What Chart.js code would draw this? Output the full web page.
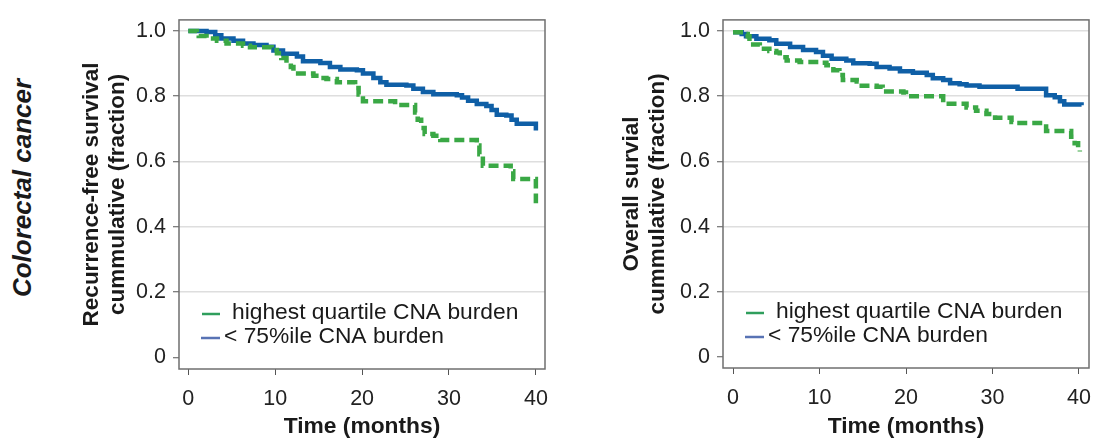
<!DOCTYPE html>
<html>
<head>
<meta charset="utf-8">
<script src="https://cdn.jsdelivr.net/npm/chart.js@4.4.0/dist/chart.umd.min.js"></script>
<style>
  body { margin: 0; background: #fff; }
  #wrap { position: relative; width: 1106px; height: 441px; overflow: hidden; font-family: 'Liberation Sans', Arial, sans-serif; }
  #leftChart { position: absolute; left: 70px; top: 0; }
  #rightChart { position: absolute; left: 610px; top: 0; }
  .side-title { position: absolute; left: 22px; top: 188px; transform: translate(-50%, -50%) rotate(-90deg);
    white-space: nowrap; font-weight: bold; font-style: italic; font-size: 26px; color: #1a1a1a; }
</style>
</head>
<body>
<div id="wrap">
  <div class="side-title">Colorectal cancer</div>
  <canvas id="leftChart" width="490" height="441"></canvas>
  <canvas id="rightChart" width="496" height="441"></canvas>
</div>
<script>
// recurrence-free survival, highest quartile CNA burden
var rfsHighMonths = [0, 1.0, 1.2, 2.1, 3.3, 4.4, 6.3, 7.1, 9.6, 10.2, 10.7, 11.3, 11.8, 12.1, 14.4, 15.2, 15.9, 17.1, 19.2, 19.6, 20.1, 23.8, 26.1, 26.4, 26.8, 27.2, 28.2, 29.0, 33.2, 33.5, 33.9, 37.1, 37.4, 40.0]
var rfsHigh = [1.0, 0.995, 0.985, 0.977, 0.970, 0.962, 0.955, 0.950, 0.942, 0.932, 0.917, 0.902, 0.890, 0.870, 0.863, 0.856, 0.853, 0.843, 0.825, 0.805, 0.785, 0.773, 0.750, 0.728, 0.703, 0.684, 0.679, 0.666, 0.649, 0.622, 0.587, 0.570, 0.546, 0.472]
// recurrence-free survival, < 75%ile CNA burden
var rfsLowMonths = [0, 2.1, 3.1, 3.8, 5.2, 6.3, 7.5, 9.0, 9.8, 10.9, 12.5, 13.2, 15.2, 16.3, 17.5, 19.4, 20.1, 21.3, 22.1, 22.8, 25.1, 25.9, 27.0, 28.2, 30.9, 31.5, 32.2, 33.2, 34.3, 34.9, 35.5, 36.6, 37.2, 37.8, 40.0]
var rfsLow = [1.0, 0.997, 0.987, 0.977, 0.970, 0.962, 0.957, 0.952, 0.940, 0.930, 0.922, 0.907, 0.902, 0.890, 0.882, 0.880, 0.870, 0.856, 0.843, 0.835, 0.833, 0.823, 0.813, 0.806, 0.803, 0.796, 0.786, 0.776, 0.770, 0.758, 0.743, 0.741, 0.728, 0.716, 0.695]

// overall survival, highest quartile CNA burden
var osHighMonths = [0, 1.35, 1.7, 1.9, 3.1, 4.2, 5.0, 5.4, 6.2, 7.7, 10.0, 10.8, 11.6, 12.3, 12.7, 14.3, 14.6, 16.6, 17.3, 19.7, 20.0, 24.3, 27.0, 28.1, 29.3, 30.3, 32.2, 32.8, 36.2, 39.1, 39.5, 39.9, 40.1]
var osHigh = [0.995, 0.990, 0.983, 0.958, 0.945, 0.938, 0.933, 0.919, 0.909, 0.904, 0.902, 0.894, 0.879, 0.864, 0.849, 0.844, 0.831, 0.828, 0.814, 0.811, 0.799, 0.776, 0.765, 0.755, 0.745, 0.733, 0.720, 0.717, 0.693, 0.675, 0.655, 0.635, 0.630]
// overall survival, < 75%ile CNA burden
var osLowMonths = [0, 1.0, 1.5, 2.7, 4.2, 5.0, 6.6, 8.1, 9.6, 10.4, 11.4, 13.1, 13.9, 15.8, 16.6, 18.1, 19.3, 20.8, 22.4, 23.1, 24.3, 25.1, 26.2, 27.0, 28.5, 32.9, 36.2, 37.2, 37.8, 38.3, 40.3]
var osLow = [0.995, 0.990, 0.983, 0.975, 0.971, 0.960, 0.950, 0.941, 0.935, 0.923, 0.914, 0.909, 0.900, 0.899, 0.889, 0.884, 0.876, 0.871, 0.864, 0.854, 0.849, 0.839, 0.836, 0.832, 0.828, 0.822, 0.802, 0.796, 0.784, 0.774, 0.772]

var seriesLabels = ['highest quartile CNA burden', '< 75%ile CNA burden']
var xTicks = [0, 10, 20, 30, 40]
var yTicks = [0, 0.2, 0.4, 0.6, 0.8, 1.0]

var FONT = "'Liberation Sans', Arial, sans-serif"

function toPoints(xs, ys) {
    return xs.map(function(x, i) { return {x: x, y: ys[i]} })
}

// grey frame round the plot area
var frameBox = {
    id: 'frameBox',
    beforeDatasetsDraw: function(chart) {
        var a = chart.chartArea, ctx = chart.ctx
        ctx.save()
        ctx.strokeStyle = '#6f6f6f'
        ctx.lineWidth = 1.5
        ctx.strokeRect(a.left, a.top, a.right - a.left, a.bottom - a.top)
        ctx.restore()
    }
}

// legend drawn inside the plot, bottom left
var insideLegend = {
    id: 'insideLegend',
    afterDraw: function(chart) {
        var a = chart.chartArea, ctx = chart.ctx
        var rows = [
            {y: a.bottom - 56, x0: 23, x1: 41, tx: 53, color: '#2f9e5c'},
            {y: a.bottom - 32, x0: 22, x1: 41, tx: 45, color: '#5873b4'}
        ]
        ctx.save()
        ctx.font = '22.8px ' + FONT
        ctx.textBaseline = 'middle'
        ctx.fillStyle = '#1a1a1a'
        chart.data.datasets.forEach(function(ds, i) {
            var r = rows[i]
            ctx.strokeStyle = r.color
            ctx.lineWidth = 2.5
            ctx.beginPath()
            ctx.moveTo(a.left + r.x0, r.y + 1)
            ctx.lineTo(a.left + r.x1, r.y + 1)
            ctx.stroke()
            ctx.fillText(ds.label, a.left + r.tx, r.y)
        })
        ctx.restore()
    }
}

function makeChart(id, highPts, lowPts, yTitle, opts) {
    return new Chart(document.getElementById(id), {
        type: 'line',
        data: {
            datasets: [{
                label: seriesLabels[0],
                data: highPts,
                borderColor: '#3aa845',
                borderWidth: 4.5,
                borderDash: [10, 5],
                stepped: true,
                pointRadius: 0,
                fill: false
            }, {
                label: seriesLabels[1],
                data: lowPts,
                borderColor: '#0f5fa6',
                borderWidth: 4.5,
                stepped: true,
                pointRadius: 0,
                fill: false
            }]
        },
        options: {
            responsive: false,
            animation: false,
            devicePixelRatio: 1,
            layout: {padding: {top: opts.top, right: opts.right, left: 0, bottom: 0}},
            plugins: {legend: {display: false}, tooltip: {enabled: false}},
            scales: {
                x: {
                    type: 'linear',
                    min: opts.xmin,
                    max: opts.xmax,
                    afterBuildTicks: function(s) { s.ticks = xTicks.map(function(v) { return {value: v} }) },
                    afterFit: function(s) { s.height = opts.xh },
                    grid: {drawOnChartArea: false, tickLength: 6, tickColor: '#555', tickWidth: 1},
                    border: {display: false},
                    ticks: {padding: 11, maxRotation: 0, color: '#222', font: {family: FONT, size: 21.5}},
                    title: {display: true, text: 'Time (months)', color: '#1a1a1a', padding: {top: 0, bottom: 3},
                        font: {family: FONT, size: 22.8, weight: 'bold', lineHeight: 1}}
                },
                y: {
                    min: opts.ymin,
                    max: opts.ymax,
                    afterBuildTicks: function(s) { s.ticks = yTicks.map(function(v) { return {value: v} }) },
                    afterFit: function(s) { s.width = opts.yw },
                    grid: {
                        color: function(c) { return c.tick && c.tick.value === 0 ? 'rgba(0,0,0,0)' : '#dedede' },
                        lineWidth: 1.5, tickLength: 6, tickColor: '#555', tickWidth: 1
                    },
                    border: {display: false},
                    ticks: {
                        padding: 7, color: '#222', font: {family: FONT, size: 21.5},
                        callback: function(v) { return v === 0 ? '0' : v.toFixed(1) }
                    },
                    title: {display: true, text: yTitle, color: '#1a1a1a', padding: {top: 9, bottom: 0},
                        font: {family: FONT, size: 22.5, weight: 'bold', lineHeight: 1.15}}
                }
            }
        },
        plugins: [frameBox, insideLegend]
    })
}

makeChart('leftChart', toPoints(rfsHighMonths, rfsHigh), toPoints(rfsLowMonths, rfsLow),
    ['Recurrence-free survival', 'cummulative (fraction)'],
    {top: 11, right: 15, xh: 72, yw: 109, xmin: -1.07, xmax: 41.05, ymin: -0.036, ymax: 1.034})

makeChart('rightChart', toPoints(osHighMonths, osHigh), toPoints(osLowMonths, osLow),
    ['Overall survial', 'cummulative (fraction)'],
    {top: 10, right: 17, xh: 73, yw: 113, xmin: -1.16, xmax: 41.16, ymin: -0.033, ymax: 1.033})
</script>
</body>
</html>
